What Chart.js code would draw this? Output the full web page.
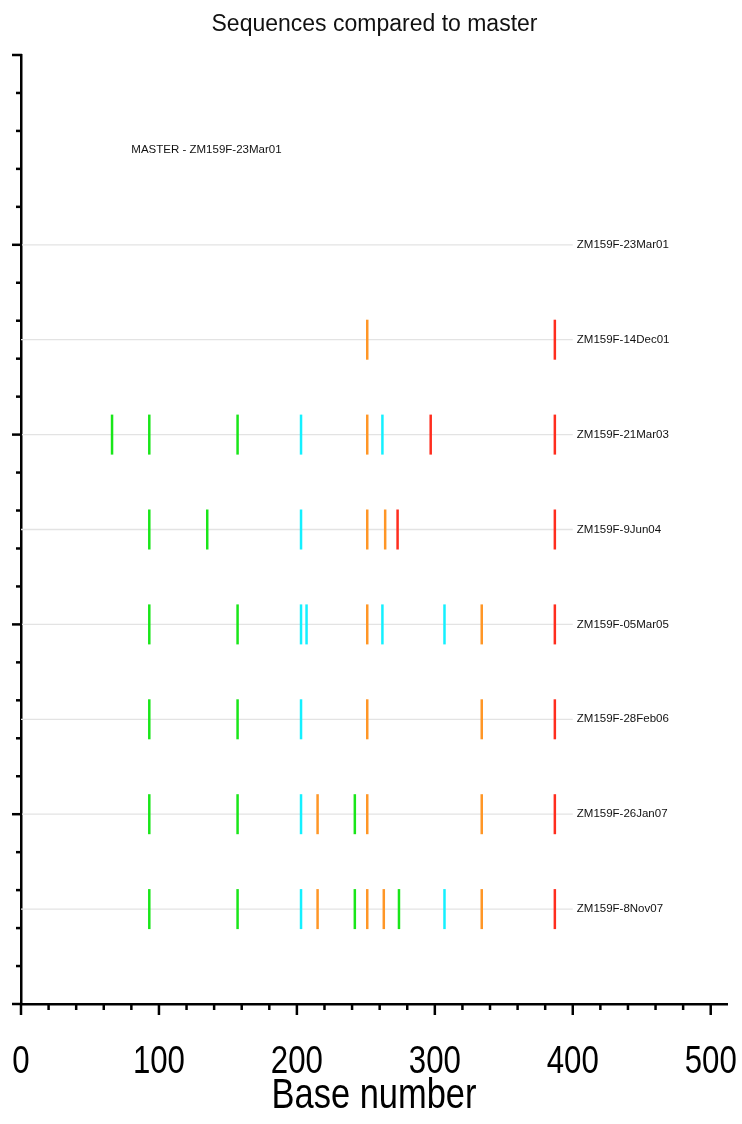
<!DOCTYPE html>
<html>
<head>
<meta charset="utf-8">
<script src="https://cdn.jsdelivr.net/npm/chart.js@4.4.1/dist/chart.umd.min.js"></script>
<style>
  html, body { margin: 0; padding: 0; background: #ffffff; }
  #wrap { width: 742px; height: 1124px; }
</style>
</head>
<body>
<div id="wrap"><canvas id="chart" width="742" height="1124"></canvas></div>
<script>
// Sequences, listed top to bottom, and the row each one sits on
const sequences = [
  'ZM159F-23Mar01', 'ZM159F-14Dec01', 'ZM159F-21Mar03', 'ZM159F-9Jun04',
  'ZM159F-05Mar05', 'ZM159F-28Feb06', 'ZM159F-26Jan07', 'ZM159F-8Nov07'
];
const rowPositions = [8, 7, 6, 5, 4, 3, 2, 1];

// Base numbers where each sequence differs from the master, grouped by mark colour
const greenSites = [[], [], [66, 93, 157], [93, 135], [93, 157], [93, 157], [93, 157, 242], [93, 157, 242, 274]];
const cyanSites = [[], [], [203, 262], [203], [203, 207, 262, 307], [203], [203], [203, 307]];
const orangeSites = [[], [251], [251], [251, 264], [251, 334], [251, 334], [215, 251, 334], [215, 251, 263, 334]];
const redSites = [[], [387], [297, 387], [273, 387], [387], [387], [387], [387]];

const masterLabel = 'MASTER - ZM159F-23Mar01';
const masterLabelAt = { x: 80, y: 9 };
const guideEnd = 400;          // guide lines run from base 0 to here
const xTickLabels = [0, 100, 200, 300, 400, 500];
const xAxisTitle = 'Base number';

const SANS = "'Liberation Sans', Arial, Helvetica, sans-serif";

function sitePoints(sites) {
  const pts = [];
  sites.forEach((list, i) => list.forEach(b => pts.push({ x: b, y: rowPositions[i] })));
  return pts;
}

function markDataset(sites, colour) {
  return {
    type: 'scatter',
    data: sitePoints(sites),
    pointStyle: 'line',
    rotation: 90,
    pointRadius: 20,
    pointHoverRadius: 20,
    borderColor: colour,
    backgroundColor: colour,
    borderWidth: 2.5,
    pointBorderWidth: 2.5,
    clip: false,
    order: 1
  };
}

const guideDatasets = rowPositions.map(r => ({
  type: 'line',
  data: [{ x: 0, y: r }, { x: guideEnd, y: r }],
  borderColor: '#e3e3e3',
  borderWidth: 1.3,
  pointRadius: 0,
  fill: false,
  order: 2
}));

// Tick marks: long at labelled / even positions, short in between
const axisTicks = {
  id: 'axisTicks',
  afterDraw(chart) {
    const { ctx, scales: { x, y } } = chart;
    ctx.save();
    ctx.strokeStyle = '#000';
    ctx.lineWidth = 2.5;
    x.ticks.forEach(t => {
      const px = x.getPixelForValue(t.value);
      const len = xTickLabels.includes(t.value) ? 11 : 6;
      ctx.beginPath();
      ctx.moveTo(px, x.top - 1);
      ctx.lineTo(px, x.top + len);
      ctx.stroke();
    });
    y.ticks.forEach(t => {
      const py = y.getPixelForValue(t.value);
      const major = Math.abs(t.value / 2 - Math.round(t.value / 2)) < 1e-6;
      const len = major ? 10 : 6;
      ctx.beginPath();
      ctx.moveTo(y.right + 1, py);
      ctx.lineTo(y.right + 1 - len, py);
      ctx.stroke();
    });
    ctx.restore();
  }
};

// Condensed text for the bottom axis numbers and its title
function condensedText(ctx, text, cx, baseline, size, squeeze) {
  ctx.save();
  ctx.font = size + 'px ' + SANS;
  ctx.fillStyle = '#000';
  ctx.textAlign = 'center';
  ctx.textBaseline = 'alphabetic';
  ctx.translate(cx, baseline);
  ctx.scale(squeeze, 1);
  ctx.fillText(text, 0, 0);
  ctx.restore();
}

const bottomAxisText = {
  id: 'bottomAxisText',
  afterDraw(chart) {
    const { ctx, scales: { x } } = chart;
    xTickLabels.forEach(v => condensedText(ctx, String(v), x.getPixelForValue(v), x.top + 69, 39, 0.8));
    condensedText(ctx, xAxisTitle, (x.left + x.right) / 2, x.top + 104, 42, 0.82);
  }
};

// Sequence names at the end of each guide line, plus the master caption
const rowLabels = {
  id: 'rowLabels',
  afterDatasetsDraw(chart) {
    const { ctx, scales: { x, y } } = chart;
    ctx.save();
    ctx.font = '11.5px ' + SANS;
    ctx.fillStyle = '#111';
    ctx.textAlign = 'left';
    ctx.textBaseline = 'middle';
    const lx = x.getPixelForValue(guideEnd) + 4;
    sequences.forEach((name, i) => ctx.fillText(name, lx, y.getPixelForValue(rowPositions[i])));
    ctx.fillText(masterLabel, x.getPixelForValue(masterLabelAt.x), y.getPixelForValue(masterLabelAt.y));
    ctx.restore();
  }
};

new Chart(document.getElementById('chart'), {
  data: {
    datasets: [
      markDataset(greenSites, '#19e619'),
      markDataset(cyanSites, '#14f0ff'),
      markDataset(orangeSites, '#ff9626'),
      markDataset(redSites, '#ff2d1e'),
      ...guideDatasets
    ]
  },
  options: {
    responsive: false,
    animation: false,
    devicePixelRatio: 1,
    events: [],
    layout: { autoPadding: false, padding: { left: 7, right: 0, top: 0, bottom: 0 } },
    plugins: {
      legend: { display: false },
      tooltip: { enabled: false },
      title: {
        display: true,
        text: 'Sequences compared to master',
        color: '#111',
        font: { family: SANS, size: 23, weight: 'normal' },
        padding: { top: 10.8, bottom: 16.6 }
      }
    },
    scales: {
      x: {
        type: 'linear',
        min: 0,
        max: 511.8,
        afterFit(s) { s.height = 120; s.paddingLeft = 0; s.paddingRight = 15; },
        ticks: { display: false, stepSize: 20, includeBounds: false, autoSkip: false, maxRotation: 0 },
        grid: { display: false, drawTicks: false, tickLength: 0 },
        border: { display: true, color: '#000', width: 2.5 }
      },
      y: {
        type: 'linear',
        min: 0,
        max: 10,
        afterFit(s) { s.width = 14; s.paddingTop = 0; s.paddingBottom = 0; },
        ticks: { display: false, stepSize: 0.4, includeBounds: false },
        grid: { display: false, drawTicks: false, tickLength: 0 },
        border: { display: true, color: '#000', width: 2.5 }
      }
    }
  },
  plugins: [axisTicks, rowLabels, bottomAxisText]
});
</script>
</body>
</html>
